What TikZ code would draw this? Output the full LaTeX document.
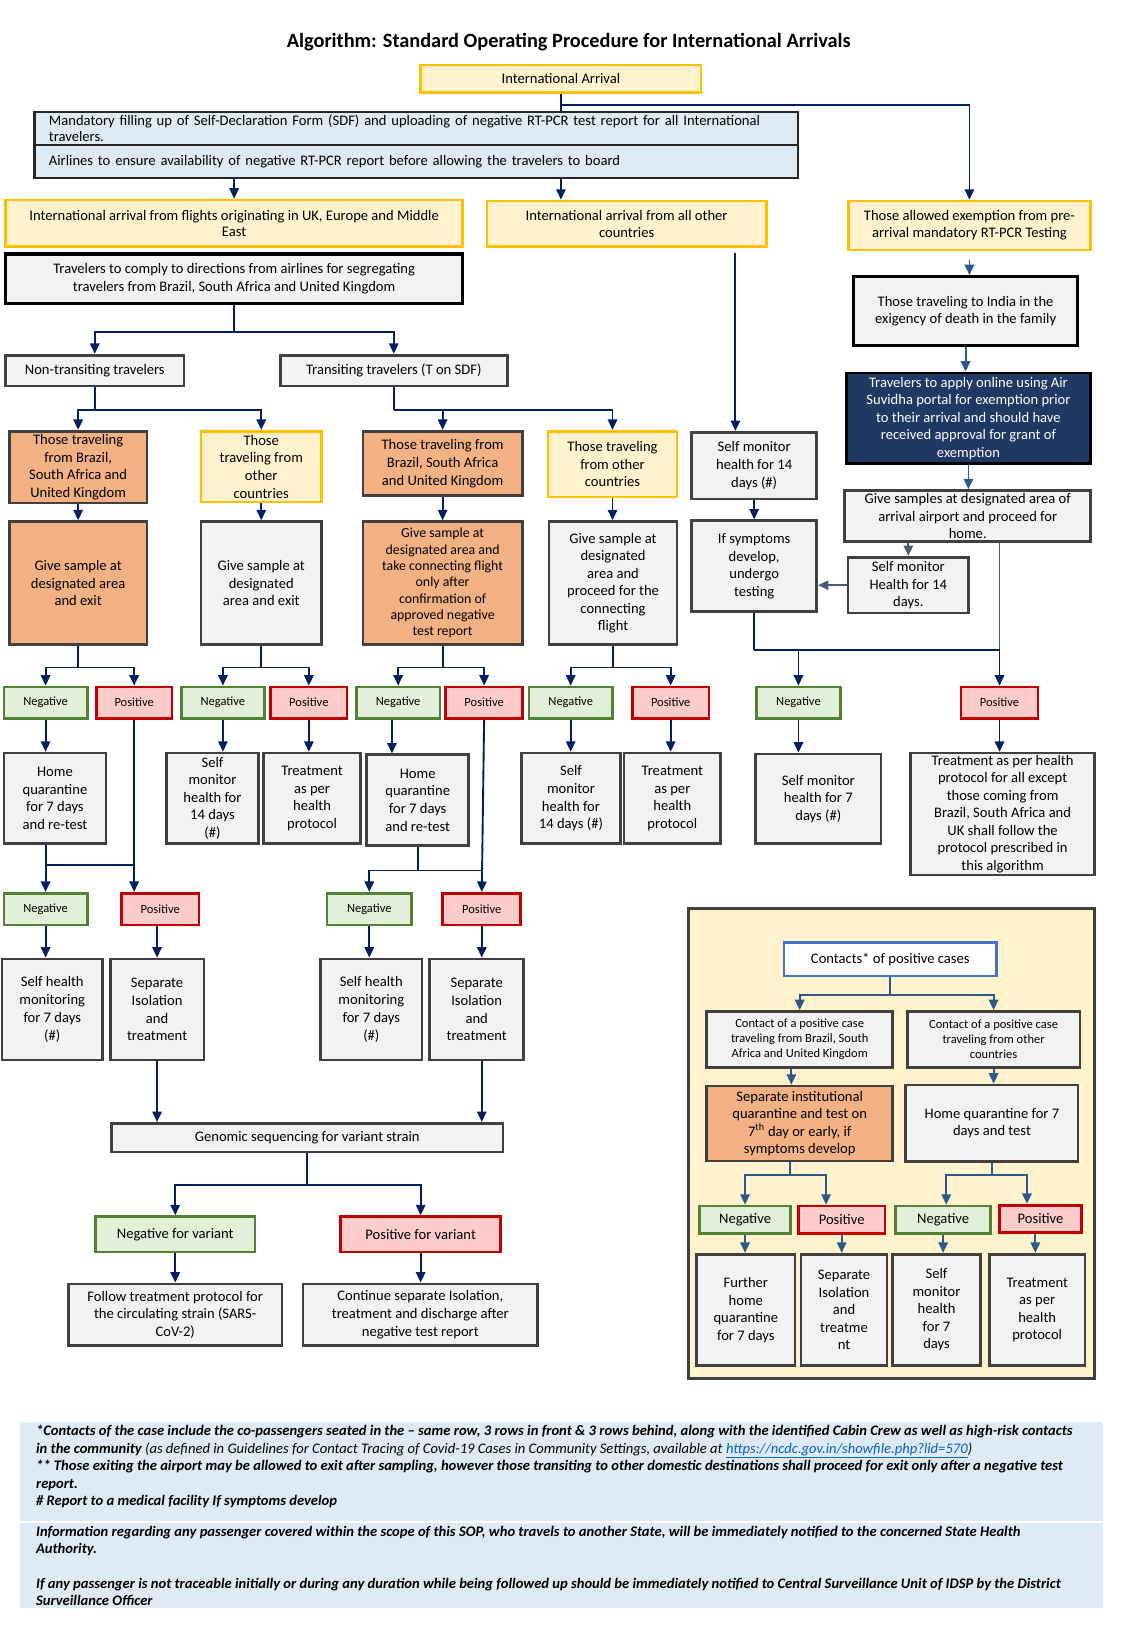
\documentclass[tikz,border=0pt]{standalone}
\usepackage{fontspec}
\setmainfont{Carlito}
\usetikzlibrary{arrows.meta,calc}
\definecolor{yfill}{HTML}{FFF2CC}
\definecolor{gold}{HTML}{FFC000}
\definecolor{gfill}{HTML}{F2F2F2}
\definecolor{dgray}{HTML}{404040}
\definecolor{ofill}{HTML}{F4B183}
\definecolor{nfill}{HTML}{E2F0D9}
\definecolor{ngreen}{HTML}{548235}
\definecolor{pfill}{HTML}{FFCCCC}
\definecolor{pred}{HTML}{C00000}
\definecolor{bfill}{HTML}{DEEBF7}
\definecolor{navyfill}{HTML}{1F3864}
\definecolor{navy}{HTML}{002060}
\definecolor{steel}{HTML}{2A5A8A}
\definecolor{gblue}{HTML}{4A5C78}
\definecolor{kblue}{HTML}{4472C4}
\definecolor{ffill}{HTML}{DEEAF6}
\definecolor{link}{HTML}{0563C1}
\newcommand\fsz[2]{\fontsize{#1}{#2}\selectfont}
\newcommand\bx[7]{\node[#2, minimum width={(#5)-(#3)}, minimum height={(#6)-(#4)}] (#1) at ({((#3)+(#5))/2},{((#4)+(#6))/2}) {#7};}
\tikzset{
 base/.style={draw, align=center, inner sep=0.5pt, text=black, font=\fsz{14}{17}},
 ybox/.style={base, fill=yfill, draw=gold, line width=2.6pt},
 gbox/.style={base, fill=gfill, draw=dgray, line width=2.6pt},
 kbox/.style={base, fill=gfill, draw=black, line width=3pt},
 obox/.style={base, fill=ofill, draw=dgray, line width=2.6pt},
 nbox/.style={base, fill=nfill, draw=ngreen, line width=2.6pt, font=\fsz{12}{14}},
 pbox/.style={base, fill=pfill, draw=pred, line width=2.6pt, font=\fsz{12}{14}},
 bbox/.style={base, fill=bfill, draw=black!85, line width=2.2pt},
 navbox/.style={base, fill=navyfill, draw=black, line width=2.6pt, text=white},
 ln/.style={draw=navy, line width=1.8pt},
 arr/.style={ln, -{Triangle[length=10pt,width=9pt]}},
 sln/.style={draw=steel, line width=1.8pt},
 sarr/.style={sln, -{Triangle[length=10pt,width=9pt]}},
 gln/.style={draw=gblue, line width=1.8pt},
 garr/.style={gln, -{Triangle[length=10pt,width=9pt]}},
 foot/.style={anchor=base west, inner sep=0pt, font=\fsz{14}{16}\bfseries\itshape},
}
\begin{document}
\begin{tikzpicture}[x=1pt,y=-1pt]
\useasboundingbox (0,0) rectangle (1080,1560);
\node[font=\fsz{19.5}{22}\bfseries] (title) at (546,40) {Algorithm: Standard Operating Procedure for International Arrivals};
% top
\bx{IA}{ybox}{404}{62.4}{673}{89}{International Arrival}
\bx{sdf}{bbox, align=left, text width=705pt, inner xsep=14pt, font=\fsz{14}{15.4}}{33}{107.8}{766}{139.2}{Mandatory filling up of Self-Declaration Form (SDF) and uploading of negative RT-PCR test report for all International\\travelers.}
\bx{air}{bbox, align=left, text width=705pt, inner xsep=14pt}{33}{139.2}{766}{170.6}{Airlines to ensure availability of negative RT-PCR report before allowing the travelers to board}
\bx{uk}{ybox, font=\fsz{14}{16}}{5.5}{192}{444}{236.8}{International arrival from flights originating in UK, Europe and Middle\\East}
\bx{oth}{ybox, font=\fsz{14}{16}}{467.6}{193}{735.5}{236.5}{International arrival from all other\\countries}
\bx{ex}{ybox, font=\fsz{14}{16}}{814.6}{193}{1046.7}{240}{Those allowed exemption from pre-\\arrival mandatory RT-PCR Testing}
\bx{comply}{kbox}{5.5}{243.8}{444}{291}{Travelers to comply to directions from airlines for segregating\\travelers from Brazil, South Africa and United Kingdom}
\bx{X1}{kbox}{819.5}{265.6}{1034.5}{332}{Those traveling to India in the\\exigency of death in the family}
\bx{nt}{gbox}{5.5}{341}{176.5}{370.6}{Non-transiting travelers}
\bx{tr}{gbox}{269}{341}{487}{370.6}{Transiting travelers (T on SDF)}
\bx{X2}{navbox, font=\fsz{14}{16.8}}{812.8}{358}{1046.6}{445}{Travelers to apply online using Air\\Suvidha portal for exemption prior\\to their arrival and should have\\received approval for grant of\\exemption}
% row 1
\bx{A1}{obox}{9}{414}{141}{483}{Those traveling\\from Brazil,\\South Africa and\\United Kingdom}
\bx{B1}{ybox}{193}{414}{308.6}{482}{Those\\traveling from\\other\\countries}
\bx{C1}{obox}{348.4}{414}{501.4}{476}{Those traveling from\\Brazil, South Africa\\and United Kingdom}
\bx{D1}{ybox}{526}{414}{650}{477}{Those traveling\\from other\\countries}
\bx{E1}{gbox}{664}{415}{784}{479}{Self monitor\\health for 14\\days (\#)}
\bx{X3}{gbox, font=\fsz{14}{16.5}, inner sep=0pt}{811}{471}{1047}{520}{Give samples at designated area of\\arrival airport and proceed for\\home.}
% row 2
\bx{A2}{obox}{9}{500.8}{141}{619}{Give sample at\\designated area\\and exit}
\bx{B2}{gbox}{193}{500.8}{308.6}{619}{Give sample at\\designated\\area and exit}
\bx{C2}{obox, font=\fsz{13.3}{15.7}}{348.4}{500.8}{501.4}{619}{Give sample at\\designated area and\\take connecting flight\\only after\\confirmation of\\approved negative\\test report}
\bx{D2}{gbox, font=\fsz{14}{16.7}}{527}{500.8}{650}{619}{Give sample at\\designated\\area and\\proceed for the\\connecting\\flight}
\bx{E2}{gbox}{664}{500}{784}{587}{If symptoms\\develop,\\undergo\\testing}
\bx{X4}{gbox, font=\fsz{14}{16.7}}{814}{535}{930}{588.5}{Self monitor\\Health for 14\\days.}
% neg/pos row
\bx{Aneg}{nbox}{3.7}{659.5}{83.8}{689.5}{Negative}
\bx{Apos}{pbox}{92.6}{659.5}{165}{689.5}{Positive}
\bx{Bneg}{nbox}{174}{659.5}{254}{689.5}{Negative}
\bx{Bpos}{pbox}{260}{659.5}{333}{689.5}{Positive}
\bx{Cneg}{nbox}{342}{659.5}{422.5}{689.5}{Negative}
\bx{Cpos}{pbox}{428}{659.5}{501.5}{689.5}{Positive}
\bx{Dneg}{nbox}{507.7}{659.5}{588}{689.5}{Negative}
\bx{Dpos}{pbox}{607}{659.5}{680.6}{689.5}{Positive}
\bx{Eneg}{nbox}{726}{659.5}{807}{689.5}{Negative}
\bx{Epos}{pbox}{922.6}{659.5}{996.5}{689.5}{Positive}
% row 3
\bx{HQA}{gbox}{3.7}{723}{101.8}{810}{Home\\quarantine\\for 7 days\\and re-test}
\bx{SMB}{gbox, font=\fsz{14}{16.8}}{160}{723}{248}{810}{Self\\monitor\\health for\\14 days\\(\#)}
\bx{TrB}{gbox}{252.8}{723}{346.4}{810}{Treatment\\as per\\health\\protocol}
\bx{HQC}{gbox}{352}{724.6}{450}{811.8}{Home\\quarantine\\for 7 days\\and re-test}
\bx{SMD}{gbox}{500.8}{723}{595.4}{810}{Self\\monitor\\health for\\14 days (\#)}
\bx{TrD}{gbox}{598.9}{723}{692}{810}{Treatment\\as per\\health\\protocol}
\bx{S7}{gbox}{725.4}{723.8}{845.8}{810}{Self monitor\\health for 7\\days (\#)}
\bx{TrE}{gbox, font=\fsz{14}{16.8}, inner sep=0pt}{874}{723}{1051}{840}{Treatment as per health\\protocol for all except\\those coming from\\Brazil, South Africa and\\UK shall follow the\\protocol prescribed in\\this algorithm}
% row 4
\bx{Aneg2}{nbox}{3.7}{857.5}{83.8}{888}{Negative}
\bx{Apos2}{pbox}{116.8}{857.5}{191}{888}{Positive}
\bx{Cneg2}{nbox}{314}{857.5}{395}{888}{Negative}
\bx{Cpos2}{pbox}{425}{857.5}{500}{888}{Positive}
% row 5
\bx{SHA}{gbox}{1.8}{920.6}{98.5}{1017.6}{Self health\\monitoring\\for 7 days\\(\#)}
\bx{SIA}{gbox}{105.8}{920.6}{195.8}{1017.6}{Separate\\Isolation\\and\\treatment}
\bx{SHC}{gbox}{308}{920.6}{405}{1017.6}{Self health\\monitoring\\for 7 days\\(\#)}
\bx{SIC}{gbox}{412.6}{920.6}{502.6}{1017.6}{Separate\\Isolation\\and\\treatment}
% genomic
\bx{gen}{gbox}{107}{1078.4}{483}{1106}{Genomic sequencing for variant strain}
\bx{negv}{nbox, font=\fsz{14}{17}}{91.6}{1168}{244.8}{1202}{Negative for variant}
\bx{posv}{pbox, font=\fsz{14}{17}}{326.8}{1168}{480.8}{1202}{Positive for variant}
\bx{fol}{gbox}{65.8}{1232.6}{270.6}{1291.8}{Follow treatment protocol for\\the circulating strain (SARS-\\CoV-2)}
\bx{cont}{gbox}{291}{1232.6}{516}{1291.8}{Continue separate Isolation,\\treatment and discharge after\\negative test report}
% contacts panel
\bx{panel}{draw=dgray, fill=yfill, line width=3pt}{660.7}{872}{1051}{1323}{}
\bx{kc}{base, fill=white, draw=kblue, line width=2.5pt}{752.6}{904.5}{956.8}{937}{Contacts* of positive cases}
\bx{kA}{gbox, font=\fsz{12}{14.4}}{678.4}{971}{857}{1024.6}{Contact of a positive case\\traveling from Brazil, South\\Africa and United Kingdom}
\bx{kB}{gbox, font=\fsz{12}{14.4}}{870.9}{971}{1036.8}{1024.6}{Contact of a positive case\\traveling from other\\countries}
\bx{kS}{obox, font=\fsz{14}{16.9}}{678.4}{1042.6}{857}{1114.6}{Separate institutional\\quarantine and test on\\7\textsuperscript{th} day or early, if\\symptoms develop}
\bx{kH}{gbox}{869.6}{1041.6}{1035}{1115}{Home quarantine for 7\\days and test}
\bx{kN1}{nbox, font=\fsz{14}{17}}{671.5}{1157.8}{759}{1184}{Negative}
\bx{kP1}{pbox, font=\fsz{14}{17}}{766.4}{1157.8}{849.6}{1184}{Positive}
\bx{kN2}{nbox, font=\fsz{14}{17}}{859.8}{1157.8}{951}{1184}{Negative}
\bx{kP2}{pbox, font=\fsz{14}{17}}{959.4}{1157}{1038.4}{1183}{Positive}
\bx{kb1}{gbox, font=\fsz{14}{16.8}}{668.8}{1204}{763.2}{1311}{Further\\home\\quarantine\\for 7 days}
\bx{kb2}{gbox, font=\fsz{14}{16.8}}{769}{1204}{851.5}{1311}{Separate\\Isolation\\and\\treatme\\nt}
\bx{kb3}{gbox, font=\fsz{14}{16.8}}{856.8}{1204}{941.3}{1311}{Self\\monitor\\health\\for 7\\days}
\bx{kb4}{gbox, font=\fsz{14}{16.8}}{949.8}{1204}{1041.6}{1311}{Treatment\\as per\\health\\protocol}
% footer
\bx{foot1}{draw=none, fill=ffill}{19.3}{1364.8}{1058.5}{1460}{}
\bx{foot2}{draw=none, fill=ffill}{19.3}{1461.8}{1058.5}{1543.9}{}
\node[foot] (f1) at (34.5,1378.5) {*Contacts of the case include the co-passengers seated in the -- same row, 3 rows in front \& 3 rows behind, along with the identified Cabin Crew as well as high-risk contacts};
\node[foot] (f2) at (34.5,1395) {in the community {\mdseries (as defined in Guidelines for Contact Tracing of Covid-19 Cases in Community Settings, available at \textcolor{link}{\underline{https://ncdc.gov.in/showfile.php?lid=570}})}};
\node[foot] (f3) at (34.5,1412) {** Those exiting the airport may be allowed to exit after sampling, however those transiting to other domestic destinations shall proceed for exit only after a negative test};
\node[foot] (f4) at (34.5,1428.5) {report.};
\node[foot] (f5) at (34.5,1445.5) {\# Report to a medical facility If symptoms develop};
\node[foot] (f6) at (34.5,1475.5) {Information regarding any passenger covered within the scope of this SOP, who travels to another State, will be immediately notified to the concerned State Health};
\node[foot] (f7) at (34.5,1491.5) {Authority.};
\node[foot] (f8) at (34.5,1524.5) {If any passenger is not traceable initially or during any duration while being followed up should be immediately notified to Central Surveillance Unit of IDSP by the District};
\node[foot] (f9) at (34.5,1541.5) {Surveillance Officer};
% connectors top
\draw[ln] (IA.south) -- (IA.south |- sdf.north);
\draw[arr] ($(IA.south)+(0,10.2)$) -| (ex.north);
\draw[arr] (air.south -| uk.north) -- (uk.north);
\draw[arr] (air.south -| IA.south) -- (IA.south |- oth.north);
\coordinate (e1in) at ([xshift=-18pt]E1.north);
\draw[arr] (oth.south -| e1in) ++(0,5) -- (e1in);
\draw[sarr] (ex.south) ++(0,8) -- (ex.south |- X1.north);
\draw[sarr] (X1.south) -- (X1.south |- X2.north);
\draw[sarr] (X2.south) -- (X2.south |- X3.north);
\draw[garr] (X3.south -| X4.north) -- (X4.north);
\draw[garr] (X4.west) -- (X4.west -| E2.east);
\draw[arr] (E1.south) -- (E1.south |- E2.north);
\draw[ln] (E2.south) -- ++(0,36) coordinate (jE);
\draw[gln] (X3.south -| Epos.north) -- (jE -| Epos.north);
\draw[arr] (jE) -| (Eneg.north);
\draw[arr] (jE) -| (Epos.north);
\draw[arr] (Eneg.south) -- (Eneg.south |- S7.north);
\draw[arr] (Epos.south) -- (Epos.south |- TrE.north);
% columns
\draw[ln] (comply.south) -- ++(0,26) coordinate (j1);
\draw[arr] (j1) -| (nt.north);
\draw[arr] (j1) -| (tr.north);
\draw[ln] (nt.south) -- ++(0,21.5) coordinate (j2);
\draw[arr] (j2) -| (A1.north);
\draw[arr] (j2) -| (B1.north);
\draw[ln] (tr.south) -- ++(0,21.5) coordinate (j3);
\draw[arr] (j3) -| (C1.north);
\draw[arr] (j3) -| (D1.north);
\foreach \a/\b in {A1/A2,B1/B2,C1/C2,D1/D2} \draw[arr] (\a.south) -- (\a.south |- \b.north);
\foreach \p/\n/\q in {A2/Aneg/Apos,B2/Bneg/Bpos,C2/Cneg/Cpos,D2/Dneg/Dpos}{
  \draw[ln] (\p.south) -- ++(0,20.5) coordinate (j\p);
  \draw[arr] (j\p) -| (\n.north);
  \draw[arr] (j\p) -| (\q.north);
}
\draw[arr] (Aneg.south) -- (Aneg.south |- HQA.north);
\draw[arr] (Bneg.south) -- (Bneg.south |- SMB.north);
\draw[arr] (Bpos.south) -- (Bpos.south |- TrB.north);
\coordinate (cnout) at ([xshift=-6pt]Cneg.south);
\draw[arr] (cnout) -- (cnout |- HQC.north);
\draw[arr] (Dneg.south) -- (Dneg.south |- SMD.north);
\draw[arr] (Dpos.south) -- (Dpos.south |- TrD.north);
\draw[ln] (HQA.south -| Aneg.south) -- ++(0,19.4) coordinate (jA2);
\draw[ln] (jA2) -- (jA2 -| Apos.south);
\draw[arr] (jA2) -- (jA2 |- Aneg2.north);
\draw[arr] (Apos.south) -- (Apos.south |- Apos2.north);
\draw[ln] (HQC.south) -- ++(0,22.6) coordinate (jC2);
\draw[arr] (jC2) -| (Cneg2.north);
\draw[ln] (jC2) -- (jC2 -| Cpos2.north);
\draw[arr] (Cpos.south) -- (Cpos2.north);
\draw[arr] (Aneg2.south) -- (Aneg2.south |- SHA.north);
\draw[arr] (Apos2.south -| SIA.north) -- (SIA.north);
\draw[arr] (Cneg2.south) -- (Cneg2.south |- SHC.north);
\draw[arr] (Cpos2.south) -- (Cpos2.south |- SIC.north);
\draw[arr] (SIA.south) -- (SIA.south |- gen.north);
\draw[arr] (SIC.south -| Cpos2.south) -- (gen.north -| Cpos2.south);
\draw[ln] (gen.south) -- ++(0,30.6) coordinate (jG);
\draw[arr] (jG) -| (negv.north);
\draw[arr] (jG) -| (posv.north);
\draw[arr] (negv.south) -- (negv.south |- fol.north);
\draw[arr] (posv.south) -- (posv.south |- cont.north);
% panel connectors
\draw[sln] (kc.south) -- ++(0,17) coordinate (jK);
\draw[sarr] (jK) -| (kA.north);
\draw[sarr] (jK) -| (kB.north);
\coordinate (kAout) at ([xshift=-8pt]kA.south);
\draw[sarr] (kAout) -- (kAout |- kS.north);
\draw[sarr] (kB.south) -- (kB.south |- kH.north);
\coordinate (kSout) at ([xshift=-9pt]kS.south);
\draw[sln] (kSout) -- ++(0,12.4) coordinate (jS);
\coordinate (kP1in) at ([xshift=-15pt]kP1.north);
\draw[sarr] (jS) -| (kN1.north);
\draw[sarr] (jS) -| (kP1in);
\draw[sln] (kH.south) -- ++(0,12) coordinate (jH);
\coordinate (kN2in) at ([xshift=3pt]kN2.north);
\coordinate (kP2in) at ([xshift=-13pt]kP2.north);
\draw[sarr] (jH) -| (kN2in);
\draw[sarr] (jH) -| (kP2in);
\draw[sarr] (kN1.south) -- (kN1.south |- kb1.north);
\draw[sarr] (kP1.south) -- (kP1.south |- kb2.north);
\draw[sarr] (kN2.south) -- (kN2.south |- kb3.north);
\coordinate (kP2out) at ([xshift=-5pt]kP2.south);
\draw[sarr] (kP2out) -- (kP2out |- kb4.north);
\end{tikzpicture}
\end{document}
